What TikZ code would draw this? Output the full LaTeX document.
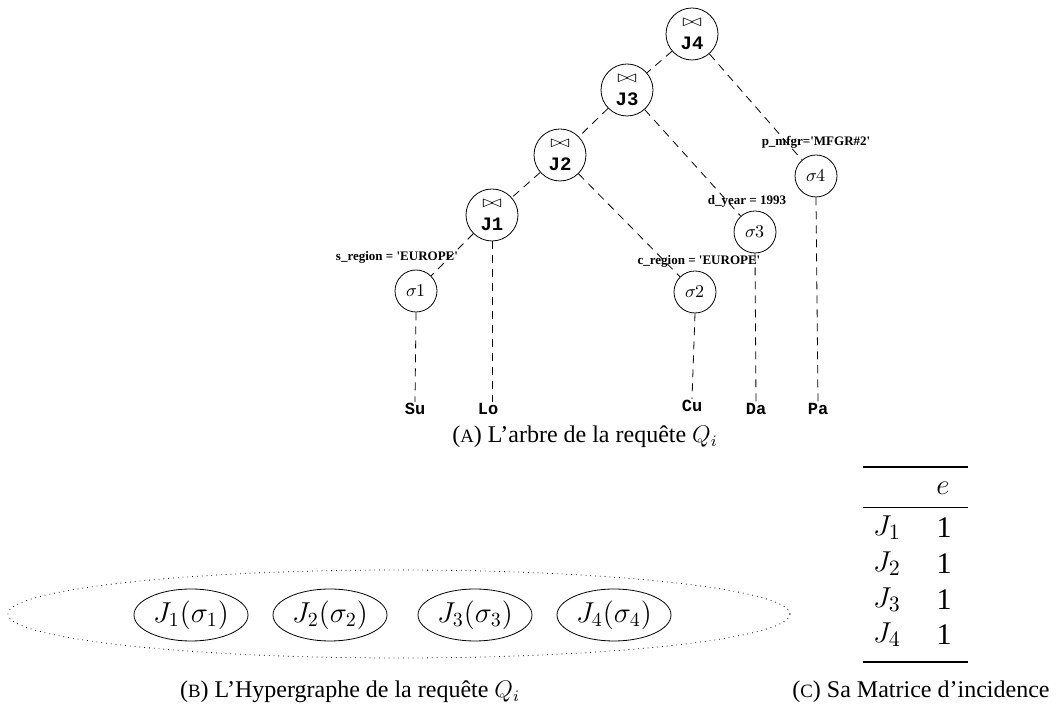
\documentclass[tikz,border=0pt]{standalone}
\usepackage[no-math]{fontspec}
\setmainfont{Liberation Serif}
\usetikzlibrary{shapes.geometric}
\newfontfamily\monobf{Liberation Mono}[BoldFont={Liberation Mono Bold}]
\newfontfamily\serifbf{Liberation Serif}[BoldFont={Liberation Serif Bold}]
\newfontfamily\lmmath{Latin Modern Math}
\newcommand{\jfont}{\fontsize{9.5}{11.5}\selectfont\monobf\bfseries}
\newcommand{\bowt}{\scalebox{1}[0.7]{\fontsize{12.5}{12.5}\selectfont$\bowtie$}}
\newcommand{\sig}[1]{{\fontsize{9}{9}\selectfont\lmmath 𝜎#1}}
\newcommand{\fsc}[1]{{\fontsize{9.4}{10}\selectfont #1}}
\newcommand{\capfont}{\fontsize{12}{14}\selectfont}
\begin{document}
\begin{tikzpicture}[x=0.5pt,y=-0.5pt,
  jnode/.style={circle,draw,minimum size=26pt,inner sep=0pt,align=center,font=\jfont},
  snode/.style={circle,draw,minimum size=21pt,inner sep=0pt},
  leaf/.style={inner sep=0.3pt,font=\fontsize{8.5}{9}\selectfont\monobf\bfseries},
  cond/.style={inner sep=0pt,font=\fontsize{6.5}{7}\selectfont\serifbf\bfseries},
  edge/.style={dash pattern=on 4pt off 3pt},
  hyp/.style={ellipse,draw,inner sep=0pt,minimum width=57pt,minimum height=26pt,font=\fontsize{14}{16}\selectfont},
  cell/.style={inner sep=0pt,font=\fontsize{15}{17}\selectfont},
  captext/.style={inner sep=0pt,font=\capfont},
  rulethick/.style={line width=0.8pt},
  rulethin/.style={line width=0.5pt}]
\useasboundingbox (0,0) rectangle (1062,710);
% tree
\node[jnode] (J4) at (692,34) {\bowt\\J4};
\node[jnode] (J3) at (627,90) {\bowt\\J3};
\node[jnode] (J2) at (560,155) {\bowt\\J2};
\node[jnode] (J1) at (492,215) {\bowt\\J1};
\node[snode] (s1) at (416,291) {\sig{1}};
\node[snode] (s2) at (695,292) {\sig{2}};
\node[snode] (s3) at (755,232) {\sig{3}};
\node[snode] (s4) at (816,176) {\sig{4}};
\node[leaf] (Su) at (415,409) {Su};
\node[leaf] (Lo) at (488,409) {Lo};
\node[leaf] (Cu) at (692,406) {Cu};
\node[leaf] (Da) at (756,409) {Da};
\node[leaf] (Pa) at (818,409) {Pa};
\draw[edge] (J4) -- (J3);
\draw[edge] (J3) -- (J2);
\draw[edge] (J2) -- (J1);
\draw[edge] (J1) -- (s1);
\draw[edge] (J2) -- (s2);
\draw[edge] (J3) -- (s3);
\draw[edge] (J4) -- (s4);
\draw[edge] (s1.south) -- (Su.north);
\draw[edge] (J1.south) -- (J1.south |- Lo.north);
\draw[edge] (s2.south) -- (Cu.north);
\draw[edge] (s3.south) -- (Da.north);
\draw[edge] (s4.south) -- (Pa.north);
\node[cond] (c1) at (397,257) {s\_region = 'EUROPE'};
\node[cond] (c2) at (699,261) {c\_region = 'EUROPE'};
\node[cond] (c3) at (747,201) {d\_year = 1993};
\node[cond] (c4) at (816,142) {p\_mfgr='MFGR\#2'};
\node[captext] (capA) at (585,437) {(\fsc{A}) L'arbre de la requête $Q_i$};
% hypergraph
\node[ellipse,draw,dotted,inner sep=0pt,minimum width=391pt,minimum height=44pt] (E) at (399,614) {};
\node[hyp] (h1) at (191,615) {$J_1(\sigma_1)$};
\node[hyp] (h2) at (330,615) {$J_2(\sigma_2)$};
\node[hyp] (h3) at (475,615) {$J_3(\sigma_3)$};
\node[hyp] (h4) at (614,615) {$J_4(\sigma_4)$};
\node[captext] (capB) at (350,692) {(\fsc{B}) L'Hypergraphe de la requête $Q_i$};
% table
\draw[rulethick] (863,467) -- (968,467);
\draw[rulethin] (863,508) -- (968,508);
\draw[rulethick] (863,662) -- (968,662);
\node[cell] (te) at (943,488) {$e$};
\node[cell] (r1) at (887,528) {$J_1$};
\node[cell] (r2) at (887,564) {$J_2$};
\node[cell] (r3) at (887,600) {$J_3$};
\node[cell] (r4) at (887,635) {$J_4$};
\node[cell] (v1) at (944,528) {1};
\node[cell] (v2) at (944,564) {1};
\node[cell] (v3) at (944,600) {1};
\node[cell] (v4) at (944,635) {1};
\node[captext] (capC) at (921,692) {(\fsc{C}) Sa Matrice d'incidence};
\end{tikzpicture}
\end{document}
